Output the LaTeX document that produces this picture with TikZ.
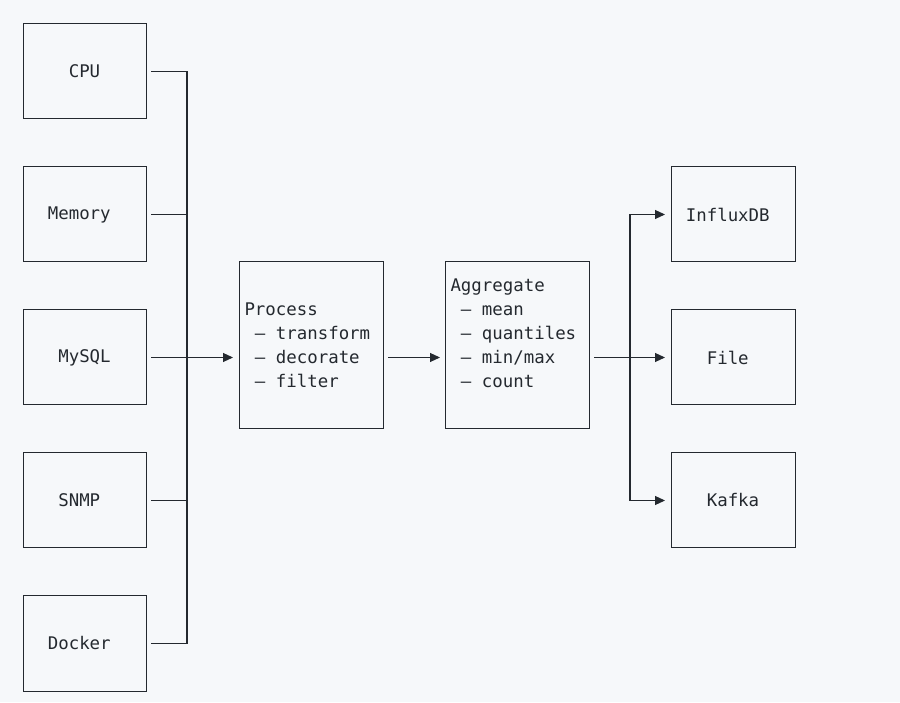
\documentclass[tikz,border=0pt]{standalone}
\usepackage{fontspec}
\setmonofont{DejaVu Sans Mono}
\usetikzlibrary{arrows.meta,positioning}
\definecolor{ink}{HTML}{24292F}
\definecolor{paper}{HTML}{F6F8FA}
\newcommand\bullit{\makebox[0.602em]{—}}
\newcommand\gap{\hspace*{0.602em}}

\begin{document}
\begin{tikzpicture}[x=1pt,y=1pt,>={Triangle[length=10pt,width=9pt]},
        node distance=48pt,text=ink,outer sep=0pt,
        font=\ttfamily\fontsize{17.4}{24}\selectfont,
        box/.style={draw=ink,line width=1pt,minimum width=123pt,minimum height=95pt},
        sink/.style={box,minimum width=124pt},
        stage/.style={draw=ink,line width=1pt,minimum width=144pt,minimum height=167pt,
                      align=left,text width=133pt,inner xsep=5.5pt},
        wire/.style={draw=ink,line width=1.1pt}]

  \fill[paper] (0,0) rectangle (900,702);
  \useasboundingbox (0,0) rectangle (900,702);

  % inputs
  \node[box] (cpu) at (84.5,630.5) {CPU};
  \node[box] (memory) [below=of cpu] {Memory\gap};
  \node[box] (mysql) [below=of memory] {MySQL};
  \node[box] (snmp) [below=of mysql] {SNMP\gap};
  \node[box] (docker) [below=of snmp] {Docker\gap};

  % pipeline
  \node[stage] (process) [right=93pt of mysql,yshift=12pt]
        {Process\\\gap\bullit\gap transform\\\gap\bullit\gap decorate\\\gap\bullit\gap filter};
  \node[stage] (aggregate) [right=62pt of process]
        {Aggregate\\\gap\bullit\gap mean\\\gap\bullit\gap quantiles\\\gap\bullit\gap min/max\\\gap\bullit\gap count\\\mbox{}};

  % outputs
  \node[sink] (file) [right=82pt of aggregate,yshift=-12pt] {File\gap};
  \node[sink] (influx) [above=of file] {InfluxDB\gap};
  \node[sink] (kafka) [below=of file] {Kafka};

  \coordinate (bus) at ([xshift=41pt]cpu.east);
  \coordinate (fan) at ([xshift=41pt]aggregate.east |- file.west);

  \draw[wire] ([xshift=5pt]cpu.east) -- (cpu.east -| bus)
        -- (docker.east -| bus) -- ([xshift=5pt]docker.east);
  \draw[wire] ([xshift=5pt]memory.east) -- (memory.east -| bus);
  \draw[wire] ([xshift=5pt]snmp.east) -- (snmp.east -| bus);
  \draw[wire,->] ([xshift=5pt]mysql.east) -- ([xshift=-6pt]mysql.east -| process.west);
  \draw[wire,->] ([xshift=5pt]process.east |- mysql.east)
        -- ([xshift=-5pt]aggregate.west |- mysql.east);
  \draw[wire,->] ([xshift=5pt]aggregate.east |- file.west) -- ([xshift=-6pt]file.west);
  \draw[wire,->] (fan) |- ([xshift=-6pt]influx.west);
  \draw[wire,->] (fan) |- ([xshift=-6pt]kafka.west);

\end{tikzpicture}
\end{document}
